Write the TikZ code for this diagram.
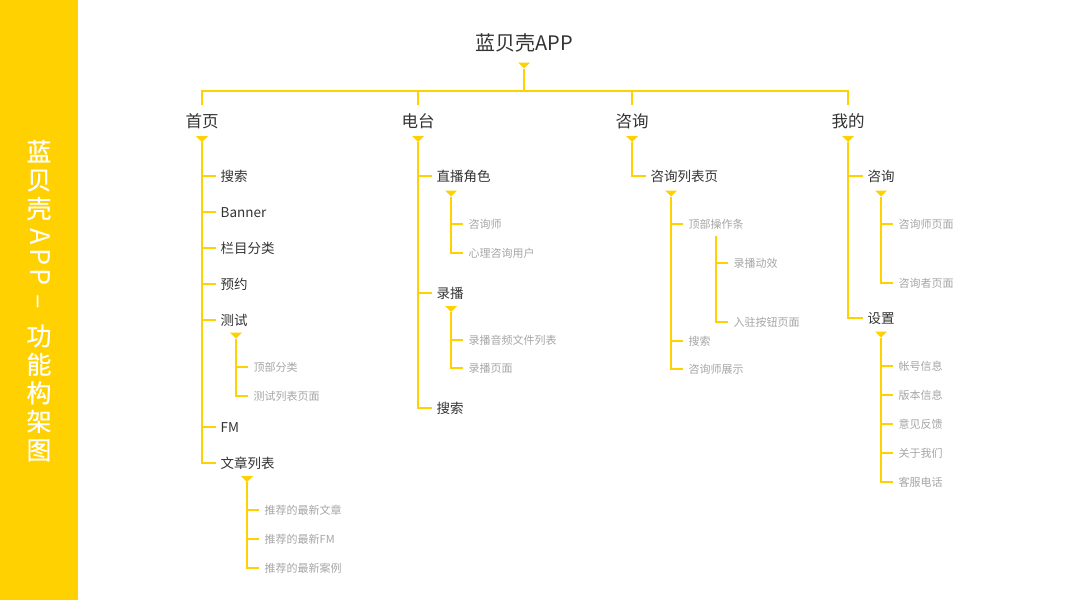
\documentclass[tikz,border=0pt]{standalone}
\usepackage{fontspec}
\setmainfont{Noto Sans CJK SC}
\newfontfamily\sidefont[FakeBold=0.5]{Noto Sans CJK SC}
\newfontfamily\sidelatin[LetterSpace=12]{Noto Sans CJK SC}
\usepackage{xcolor}
\usetikzlibrary{positioning,calc}
\definecolor{beeyellow}{HTML}{FFD100}
\definecolor{darktext}{HTML}{333333}
\definecolor{lighttext}{HTML}{A6A6A6}

\begin{document}
\begin{tikzpicture}[
    x=1pt, y=-1pt,
    % text styles
    sidetext/.style={font=\sidefont\fontsize{25}{28.5}\selectfont, text=white, align=center, inner sep=0pt},
    apptext/.style={font=\fontsize{20}{24}\selectfont, text=darktext, text height=17.6pt, text depth=2.4pt},
    tabtext/.style={font=\fontsize{16.5}{19}\selectfont, text=darktext, text height=14.5pt, text depth=2pt, inner xsep=2pt, inner ysep=7.5pt},
    pagetext/.style={font=\fontsize{13.5}{16}\selectfont, text=darktext, text height=11.9pt, text depth=1.6pt, anchor=west, inner xsep=5pt, inner ysep=2pt},
    itemtext/.style={font=\fontsize{11}{13}\selectfont, text=lighttext, text height=9.7pt, text depth=1.3pt, anchor=west, inner xsep=5.5pt, inner ysep=2pt},
    % small yellow triangles
    pointer/.style={minimum width=12pt, minimum height=6pt, inner sep=0pt, outer sep=0pt,
        path picture={\fill[beeyellow] (path picture bounding box.north west) -- (path picture bounding box.north east) -- (path picture bounding box.south) -- cycle;}},
    % connectors
    link/.style={draw=beeyellow, line width=1.8pt},
    sublink/.style={draw=beeyellow, line width=1.3pt}
]
\useasboundingbox (0,0) rectangle (1067,600);
\fill[white] (0,0) rectangle (1067,600);

% === SIDE BAR ===
\fill[beeyellow] (0,0) rectangle (78,600);
\node[sidetext] (side-top) at (39,180) {蓝\\贝\\壳};
\node[sidetext, font=\sidelatin\fontsize{27}{28.5}\selectfont, rotate=-90] (side-app) at (40,269) {APP\ –};
\node[sidetext] (side-bottom) at (39,393) {功\\能\\构\\架\\图};

% === ROOT ===
\node[apptext] (root) at (524,43) {蓝贝壳APP};
\node[pointer] (t-root) at (524,65.5) {};
\coordinate (bar) at (524,91);

% === TABS ===
\node[tabtext] (home) at (202,121) {首页};
\node[tabtext] (radio) at (418,121) {电台};
\node[tabtext] (consult) at (632,121) {咨询};
\node[tabtext] (mine) at (848,121) {我的};
\node[pointer] (t-home) at (202,139) {};
\node[pointer] (t-radio) at (418,139) {};
\node[pointer] (t-consult) at (632,139) {};
\node[pointer] (t-mine) at (848,139) {};

\draw[link] (t-root.south) -- (bar);
\draw[link] (home.north) |- (bar) -| (mine.north);
\draw[link] (radio.north) -- (radio.north |- bar);
\draw[link] (consult.north) -- (consult.north |- bar);

% === 首页 ===
\node[pagetext] (home-search) at (215.5,176) {搜索};
\node[pagetext] (home-banner) at (215.5,212) {Banner};
\node[pagetext] (home-column) at (215.5,248) {栏目分类};
\node[pagetext] (home-booking) at (215.5,284) {预约};
\node[pagetext] (home-test) at (215.5,320) {测试};
\node[pagetext] (home-fm) at (215.5,427) {FM};
\node[pagetext] (home-article) at (215.5,463) {文章列表};
\draw[link] (t-home.south) |- (home-search.west);
\draw[link] (t-home.south) |- (home-banner.west);
\draw[link] (t-home.south) |- (home-column.west);
\draw[link] (t-home.south) |- (home-booking.west);
\draw[link] (t-home.south) |- (home-test.west);
\draw[link] (t-home.south) |- (home-fm.west);
\draw[link] (t-home.south) |- (home-article.west);

\node[pointer] (t-test) at (236,335.5) {};
\node[itemtext] (test-top) at (248,367) {顶部分类};
\node[itemtext] (test-list) at (248,396) {测试列表页面};
\draw[sublink] (t-test.south) |- (test-top.west);
\draw[sublink] (t-test.south) |- (test-list.west);

\node[pointer] (t-article) at (247,479) {};
\node[itemtext] (article-text) at (259,510) {推荐的最新文章};
\node[itemtext] (article-fm) at (259,539) {推荐的最新FM};
\node[itemtext] (article-case) at (259,568) {推荐的最新案例};
\draw[sublink] (t-article.south) |- (article-text.west);
\draw[sublink] (t-article.south) |- (article-fm.west);
\draw[sublink] (t-article.south) |- (article-case.west);

% === 电台 ===
\node[pagetext] (radio-live) at (431.5,176) {直播角色};
\node[pagetext] (radio-record) at (431.5,293) {录播};
\node[pagetext] (radio-search) at (431.5,408) {搜索};
\draw[link] (t-radio.south) |- (radio-live.west);
\draw[link] (t-radio.south) |- (radio-record.west);
\draw[link] (t-radio.south) |- (radio-search.west);

\node[pointer] (t-live) at (451,193.5) {};
\node[itemtext] (live-counselor) at (463,224) {咨询师};
\node[itemtext] (live-user) at (463,253) {心理咨询用户};
\draw[sublink] (t-live.south) |- (live-counselor.west);
\draw[sublink] (t-live.south) |- (live-user.west);

\node[pointer] (t-record) at (451,309) {};
\node[itemtext] (record-list) at (463,340) {录播音频文件列表};
\node[itemtext] (record-page) at (463,368) {录播页面};
\draw[sublink] (t-record.south) |- (record-list.west);
\draw[sublink] (t-record.south) |- (record-page.west);

% === 咨询 ===
\node[pagetext] (consult-list) at (645.5,176) {咨询列表页};
\draw[link] (t-consult.south) |- (consult-list.west);

\node[pointer] (t-list) at (671,193.5) {};
\node[itemtext] (list-topbar) at (683,224) {顶部操作条};
\node[itemtext] (list-search) at (683,341) {搜索};
\node[itemtext] (list-show) at (683,369) {咨询师展示};
\draw[sublink] (t-list.south) |- (list-topbar.west);
\draw[sublink] (t-list.south) |- (list-search.west);
\draw[sublink] (t-list.south) |- (list-show.west);

\coordinate (topbar-stem) at (716,236);
\node[itemtext] (topbar-effect) at (728,263) {录播动效};
\node[itemtext] (topbar-join) at (728,322) {入驻按钮页面};
\draw[sublink] (topbar-stem) |- (topbar-effect.west);
\draw[sublink] (topbar-stem) |- (topbar-join.west);

% === 我的 ===
\node[pagetext] (mine-consult) at (862.5,176) {咨询};
\node[pagetext] (mine-settings) at (862.5,318) {设置};
\draw[link] (t-mine.south) |- (mine-consult.west);
\draw[link] (t-mine.south) |- (mine-settings.west);

\node[pointer] (t-mine-consult) at (881,193.5) {};
\node[itemtext] (mc-counselor) at (893,224) {咨询师页面};
\node[itemtext] (mc-client) at (893,283) {咨询者页面};
\draw[sublink] (t-mine-consult.south) |- (mc-counselor.west);
\draw[sublink] (t-mine-consult.south) |- (mc-client.west);

\node[pointer] (t-settings) at (881,334.5) {};
\node[itemtext] (set-account) at (893,366) {帐号信息};
\node[itemtext] (set-version) at (893,395) {版本信息};
\node[itemtext] (set-feedback) at (893,424) {意见反馈};
\node[itemtext] (set-about) at (893,453) {关于我们};
\node[itemtext] (set-service) at (893,482) {客服电话};
\draw[sublink] (t-settings.south) |- (set-account.west);
\draw[sublink] (t-settings.south) |- (set-version.west);
\draw[sublink] (t-settings.south) |- (set-feedback.west);
\draw[sublink] (t-settings.south) |- (set-about.west);
\draw[sublink] (t-settings.south) |- (set-service.west);

\end{tikzpicture}
\end{document}
